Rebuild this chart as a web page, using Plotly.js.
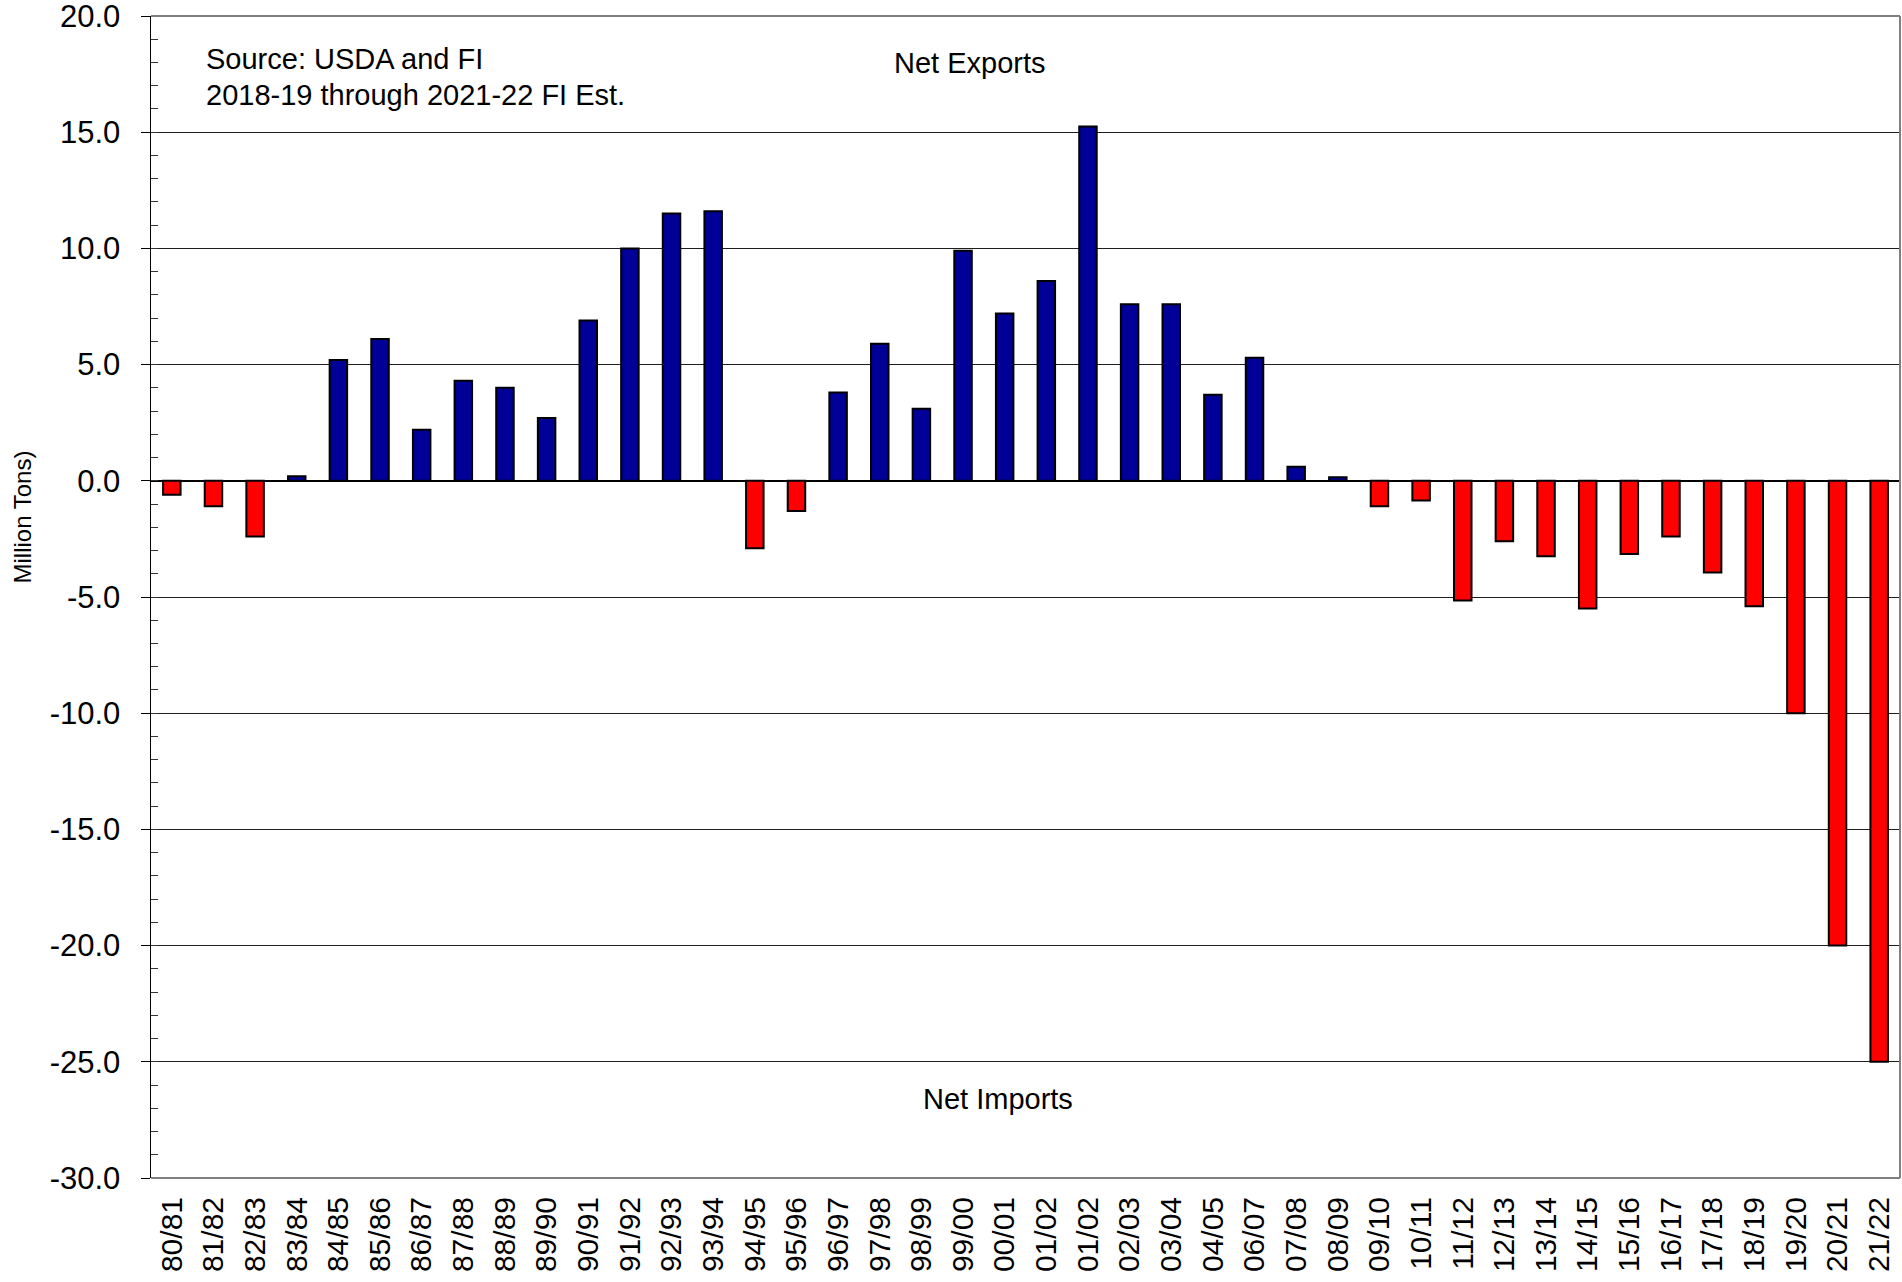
<!DOCTYPE html>
<html>
<head>
<meta charset="utf-8">
<script src="https://cdn.plot.ly/plotly-3.0.1.min.js"></script>
<style>
  html, body { margin: 0; padding: 0; background: #ffffff; }
  #chart { width: 1902px; height: 1282px; }
</style>
</head>
<body>
<div id="chart"></div>
<script>
// ---- data ----
const seasons = ["80/81","81/82","82/83","83/84","84/85","85/86","86/87","87/88","88/89","89/90",
  "90/91","91/92","92/93","93/94","94/95","95/96","96/97","97/98","98/99","99/00",
  "00/01","01/02","01/02","02/03","03/04","04/05","06/07","07/08","08/09","09/10",
  "10/11","11/12","12/13","13/14","14/15","15/16","16/17","17/18","18/19","19/20",
  "20/21","21/22"];
const netTrade = [-0.6, -1.1, -2.4, 0.2, 5.2, 6.1, 2.2, 4.3, 4.0, 2.7,
  6.9, 10.0, 11.5, 11.6, -2.9, -1.3, 3.8, 5.9, 3.1, 9.9,
  7.2, 8.6, 15.25, 7.6, 7.6, 3.7, 5.3, 0.6, 0.15, -1.1,
  -0.85, -5.15, -2.6, -3.25, -5.5, -3.15, -2.4, -3.95, -5.4, -10.0,
  -20.0, -25.0];
const yTickVals = [-30, -25, -20, -15, -10, -5, 0, 5, 10, 15, 20];
const yTickText = ["-30.0","-25.0","-20.0","-15.0","-10.0","-5.0","0.0","5.0","10.0","15.0","20.0"];
const exportColor = "#000099";
const importColor = "#FF0000";

// ---- derived ----
const xIdx = seasons.map((s, i) => i);
const barColors = netTrade.map(v => v >= 0 ? exportColor : importColor);
const boundaryTicks = seasons.slice(1).map((s, i) => i + 0.5);

const FONT = "Liberation Sans, Arial, sans-serif";

const traces = [{
  type: "bar",
  x: xIdx,
  y: netTrade,
  width: 0.42,
  marker: { color: barColors, line: { color: "#000000", width: 2 } },
  hoverinfo: "skip",
  showlegend: false
}];

const xRange = [-0.5, seasons.length - 0.5];

const layout = {
  width: 1902,
  height: 1282,
  margin: { l: 151, r: 2, t: 16, b: 104, pad: 0 },
  paper_bgcolor: "#ffffff",
  plot_bgcolor: "#ffffff",
  font: { family: FONT, color: "#000000", size: 31 },
  xaxis: {
    range: xRange,
    tickmode: "array",
    tickvals: xIdx,
    ticktext: seasons,
    tickangle: -90,
    ticks: "",
    ticklabelstandoff: 12,
    showgrid: false,
    zeroline: false,
    showline: false,
    tickfont: { family: FONT, size: 30, color: "#000000" },
    ticklabeloverflow: "allow",
    fixedrange: true
  },
  xaxis2: {
    overlaying: "x",
    anchor: "free",
    position: 0.6,
    side: "bottom",
    range: xRange,
    tickmode: "array",
    tickvals: boundaryTicks,
    ticks: "outside",
    ticklen: 9,
    tickwidth: 1,
    tickcolor: "#000000",
    showticklabels: false,
    showgrid: false,
    zeroline: false,
    showline: false
  },
  yaxis: {
    range: [-30, 20],
    tickmode: "array",
    tickvals: yTickVals,
    ticktext: yTickText,
    ticks: "outside",
    ticklen: 9,
    tickwidth: 1,
    tickcolor: "#000000",
    ticklabelstandoff: 14,
    ticklabeloverflow: "allow",
    minor: { dtick: 1, ticks: "inside", ticklen: 7, tickwidth: 1, tickcolor: "#333333", showgrid: false },
    showgrid: true,
    gridcolor: "#1e1e1e",
    gridwidth: 1,
    zeroline: true,
    zerolinecolor: "#000000",
    zerolinewidth: 1.5,
    showline: true,
    linecolor: "#000000",
    linewidth: 1.5,
    tickfont: { family: FONT, size: 31, color: "#000000" },
    fixedrange: true
  },
  shapes: [
    { type: "line", xref: "paper", yref: "paper", x0: 0, x1: 1, y0: 1, y1: 1, line: { color: "#808080", width: 2 }, layer: "above" },
    { type: "line", xref: "paper", yref: "paper", x0: 1, x1: 1, y0: 0, y1: 1, line: { color: "#808080", width: 2 }, layer: "above" },
    { type: "line", xref: "paper", yref: "paper", x0: 0, x1: 1, y0: 0, y1: 0, line: { color: "#808080", width: 2 }, layer: "above" }
  ],
  annotations: [
    { text: "Source: USDA and FI", xref: "paper", yref: "paper", x: 0.0303, y: 0.9630,
      xanchor: "left", yanchor: "middle", showarrow: false, font: { family: FONT, size: 29, color: "#000" } },
    { text: "2018-19 through 2021-22 FI Est.", xref: "paper", yref: "paper", x: 0.0303, y: 0.9320,
      xanchor: "left", yanchor: "middle", showarrow: false, font: { family: FONT, size: 29, color: "#000" } },
    { text: "Net Exports", xref: "paper", yref: "paper", x: 0.4683, y: 0.9598,
      xanchor: "center", yanchor: "middle", showarrow: false, font: { family: FONT, size: 29, color: "#000" } },
    { text: "Net Imports", xref: "paper", yref: "paper", x: 0.4843, y: 0.0676,
      xanchor: "center", yanchor: "middle", showarrow: false, font: { family: FONT, size: 29, color: "#000" } },
    { text: "Million Tons)", xref: "paper", yref: "paper", x: -0.0735, y: 0.5688, textangle: -90,
      xanchor: "center", yanchor: "middle", showarrow: false, font: { family: FONT, size: 24, color: "#000" } }
  ]
};

Plotly.newPlot("chart", traces, layout, { staticPlot: true, displayModeBar: false });
</script>
</body>
</html>
